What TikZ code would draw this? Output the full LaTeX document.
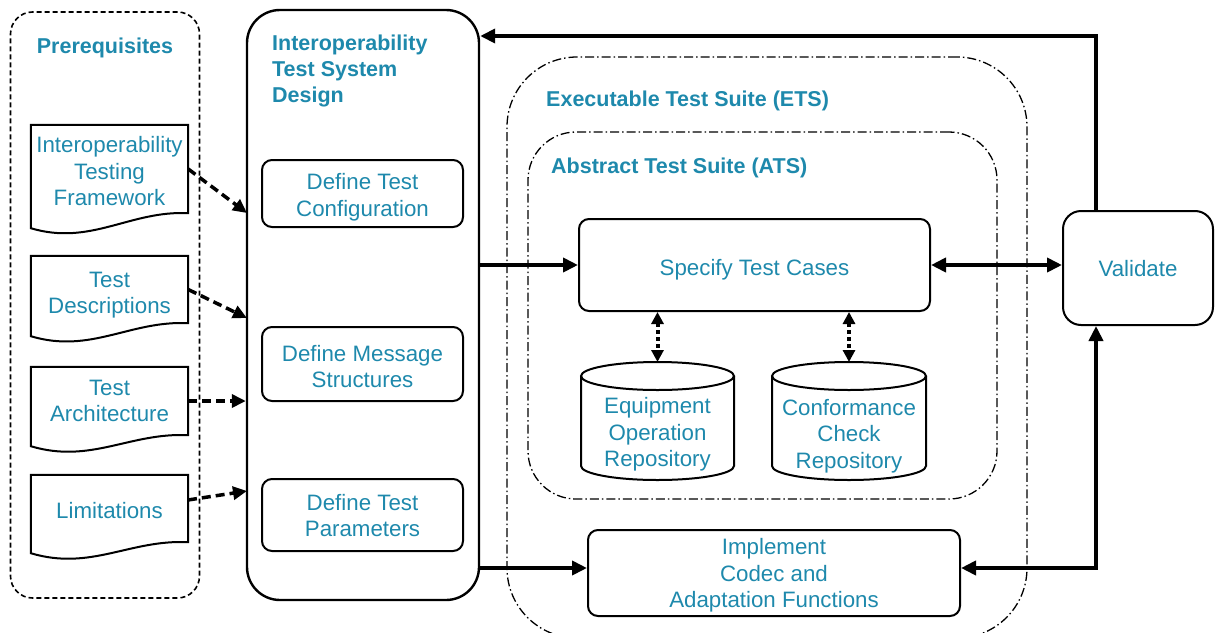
\documentclass[tikz,border=0pt]{standalone}
\usepackage{fontspec}
\setmainfont{Liberation Sans}
\usetikzlibrary{arrows.meta,calc}
\definecolor{tealtxt}{RGB}{30,137,172}
\newcommand\docshape[2]{%
  \draw[docline] (#1.north west) -- (#1.north east) -- (#1.south east)
    .. controls +(-58,-3) and +(60,18) .. ($(#1.south west)+(0,#2)$) -- cycle;}
\begin{document}
\begin{tikzpicture}[x=1pt,y=-1pt,
  txt/.style={text=tealtxt, font=\fontsize{22.3}{26.5}\selectfont, align=center, inner sep=0pt},
  ttl/.style={text=tealtxt, font=\fontsize{21.5}{26}\selectfont\bfseries, align=left, inner sep=0pt},
  frame/.style={inner sep=0pt},
  box/.style={draw, line width=2pt, rounded corners=10pt, inner sep=0pt},
  docline/.style={draw, line width=2pt},
  cyl/.style={draw, line width=2pt},
  dashdotline/.style={draw, line width=1.3pt, dash pattern=on 9pt off 3pt on 1.5pt off 3pt},
  conn/.style={line width=4.5pt, -{Triangle[length=15pt,width=14pt]}},
  conntwo/.style={line width=4.5pt, {Triangle[length=15pt,width=14pt]}-{Triangle[length=15pt,width=14pt]}},
  dconn/.style={line width=3.5pt, dash pattern=on 9pt off 5pt, -{Triangle[length=14pt,width=13pt]}},
  dotconn/.style={line width=4pt, dash pattern=on 4pt off 3pt, {Triangle[length=12pt,width=12pt]}-{Triangle[length=12pt,width=12pt]}}
]
\useasboundingbox (0,0) rectangle (1215,632);
\clip (0,0) rectangle (1215,632);

% Prerequisites container
\node[draw, line width=1.6pt, dash pattern=on 5pt off 3pt, rounded corners=22pt,
      minimum width=189pt, minimum height=586pt, inner sep=0pt] (pre) at (105,305) {};
\node[ttl] (pret) at (105,48) {Prerequisites};

% documents
\node[frame, minimum width=157pt, minimum height=88pt] (d1) at (109.5,169) {};
\node[frame, minimum width=157pt, minimum height=67pt] (d2) at (109.5,289.5) {};
\node[frame, minimum width=157pt, minimum height=68pt] (d3) at (109.5,401) {};
\node[frame, minimum width=157pt, minimum height=67pt] (d4) at (109.5,508.5) {};
\docshape{d1}{15}
\docshape{d2}{13}
\docshape{d3}{11}
\docshape{d4}{11}
\node[txt] (d1t) at (109.5,171.5) {Interoperability\\Testing\\Framework};
\node[txt] (d2t) at (109.5,295) {Test\\Descriptions};
\node[txt] (d3t) at (109.5,401) {Test\\Architecture};
\node[txt] (d4t) at (109.5,510.5) {Limitations};

% Interoperability Test System Design
\node[draw, line width=2.4pt, rounded corners=33pt, minimum width=232pt, minimum height=590pt, inner sep=0pt] (itsd) at (363,305) {};
\node[ttl, anchor=north west] (itsdt) at (272,35) {Interoperability\\Test System\\Design};
\node[box, minimum width=201pt, minimum height=67pt] (dtc) at (362.5,193.5) {};
\node[box, minimum width=201pt, minimum height=74pt] (dms) at (362.5,364) {};
\node[box, minimum width=201pt, minimum height=72pt] (dtp) at (362.5,515) {};
\node[txt] (dtct) at (362.5,197) {Define Test\\Configuration};
\node[txt] (dmst) at (362.5,366.5) {Define Message\\Structures};
\node[txt] (dtpt) at (362.5,515.5) {Define Test\\Parameters};

% ETS / ATS containers
\node[dashdotline, rounded corners=70pt, minimum width=520pt, minimum height=581pt, inner sep=0pt] (ets) at (767,347.5) {};
\node[ttl, anchor=west] (etst) at (546,101) {Executable Test Suite (ETS)};
\node[dashdotline, rounded corners=48pt, minimum width=469pt, minimum height=367pt, inner sep=0pt] (ats) at (762.5,315.5) {};
\node[ttl, anchor=west] (atst) at (551,168) {Abstract Test Suite (ATS)};

% boxes
\node[box, minimum width=351pt, minimum height=92pt] (stc) at (754.5,265) {};
\node[box, rounded corners=18pt, minimum width=150pt, minimum height=114pt] (val) at (1138,268) {};
\node[box, minimum width=372pt, minimum height=86pt] (imp) at (774,573) {};
\node[txt] (stct) at (754.5,270) {Specify Test Cases};
\node[txt] (valt) at (1138,269) {Validate};
\node[txt] (impt) at (774,575.5) {Implement\\Codec and\\Adaptation Functions};

% cylinders
\draw[cyl] (581,376) -- (581,466) arc[start angle=180,end angle=0,x radius=76.5,y radius=14] -- (734,376);
\draw[cyl] (657.5,376) ellipse[x radius=76.5,y radius=14];
\node[txt] (c1) at (657.5,434.5) {Equipment\\Operation\\Repository};
\draw[cyl] (772,376) -- (772,466) arc[start angle=180,end angle=0,x radius=77,y radius=14] -- (926,376);
\draw[cyl] (849,376) ellipse[x radius=77,y radius=14];
\node[txt] (c2) at (849,436) {Conformance\\Check\\Repository};
\coordinate (c1top) at (657.5,362);
\coordinate (c2top) at (849,362);

% connectors
\coordinate (a1) at (247,213);
\coordinate (a2) at (247,318);
\coordinate (a4) at (247,491);
\coordinate (s4) at (188,500);
\draw[dconn] (d1.east) -- (a1);
\draw[dconn] (d2.east) -- (a2);
\draw[dconn] (d3.east) -- (d3.east -| itsd.west);
\draw[dconn] (s4) -- (a4);

\draw[conn] (itsd.east |- stc.west) -- (stc.west);
\draw[conntwo] (stc.east) -- (val.west |- stc.east);
\coordinate (vtop) at (1096,36);
\draw[conn, line join=miter] (val.north -| vtop) -- (vtop) -- (vtop -| itsd.east);
\coordinate (ilow) at (479,568);
\draw[conn] (ilow) -- (ilow -| imp.west);
\coordinate (vbot) at (1096,568);
\draw[conntwo, line join=miter] (vbot -| imp.east) -- (vbot) -- (val.south -| vbot);

\draw[dotconn] (c1top |- stc.south) -- (c1top);
\draw[dotconn] (c2top |- stc.south) -- (c2top);
\end{tikzpicture}
\end{document}
